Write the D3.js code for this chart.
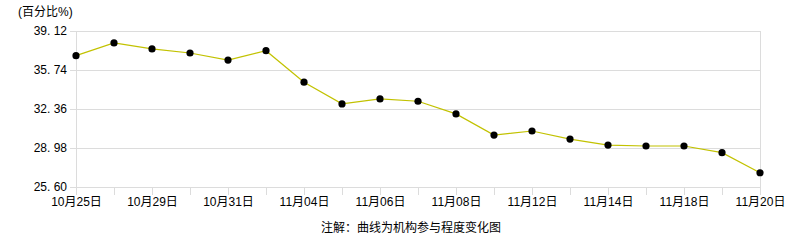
<!DOCTYPE html>
<html>
<head>
<meta charset="utf-8">
<script src="https://cdn.jsdelivr.net/npm/d3@7"></script>
<style>
body{margin:0;background:#fff;}
text{font-family:"Liberation Sans","Noto Sans CJK SC",sans-serif;font-size:12px;fill:#000;}
</style>
</head>
<body>
<div id="canvas"></div>
<script>
// dates of each point (labels shown on every other one)
var dates = ['10月25日','10月28日','10月29日','10月30日','10月31日','11月01日','11月04日','11月05日','11月06日','11月07日',
             '11月08日','11月11日','11月12日','11月13日','11月14日','11月15日','11月18日','11月19日','11月20日'];
var values = [36.94,38.04,37.52,37.17,36.56,37.37,34.64,32.76,33.19,32.99,
              31.89,30.06,30.41,29.71,29.19,29.11,29.11,28.53,26.79];
var yTicks = [25.60,28.98,32.36,35.74,39.12];

var W = 786, H = 240;
var m = {t:30.5,r:26,b:53.5,l:76};
var w = W - m.l - m.r, h = H - m.t - m.b;

var svg = d3.select('#canvas').append('svg')
    .attr('width',W).attr('height',H);
var plot = svg.append('g')
    .attr('transform','translate(' + m.l + ',' + m.t + ')');

var scaleX = d3.scalePoint().domain(dates).range([0,w]);
var scaleY = d3.scaleLinear().domain([25.60,39.12]).range([h,0]);

//grid + y axis
var axisY = d3.axisLeft(scaleY)
    .tickValues(yTicks)
    .tickSize(-w-6)
    .tickPadding(4)
    .tickFormat(function(d){ return d.toFixed(2).replace('.', '. '); });
var gy = plot.append('g').attr('class','axis-y')
    .attr('transform','translate(-6,0)')
    .call(axisY);
gy.select('.domain').remove();
gy.selectAll('line').attr('stroke','#dcdcdc').attr('shape-rendering','crispEdges');
gy.selectAll('text').attr('x',-3);

// left & right borders
plot.append('line').attr('x1',0).attr('x2',0).attr('y1',0).attr('y2',h+8)
    .attr('stroke','#dcdcdc').attr('shape-rendering','crispEdges');
plot.append('line').attr('x1',w).attr('x2',w).attr('y1',0).attr('y2',h+8)
    .attr('stroke','#dcdcdc').attr('shape-rendering','crispEdges');

//x axis
var axisX = d3.axisBottom(scaleX)
    .tickSize(8)
    .tickPadding(2)
    .tickFormat(function(d,i){ return i % 2 === 0 ? d : ''; });
var gx = plot.append('g').attr('class','axis-x')
    .attr('transform','translate(0,'+h+')')
    .call(axisX);
gx.select('.domain').attr('stroke','#dcdcdc').attr('d','M0,0.5H'+w).attr('shape-rendering','crispEdges');
gx.selectAll('line').attr('stroke','#dcdcdc').attr('shape-rendering','crispEdges');
gx.selectAll('text').attr('y',11);

//line
var line = d3.line()
    .x(function(d,i){ return scaleX(dates[i]); })
    .y(function(d){ return scaleY(d); });
plot.append('path').datum(values)
    .attr('d',line)
    .attr('fill','none')
    .attr('stroke','#c2c200')
    .attr('stroke-width',1.2);

plot.selectAll('.dot').data(values).enter()
    .append('circle').attr('class','dot')
    .attr('cx',function(d,i){ return scaleX(dates[i]); })
    .attr('cy',function(d){ return scaleY(d); })
    .attr('r',3.6)
    .attr('fill','#000');

//unit + note
svg.append('text').attr('x',18).attr('y',16).text('(百分比%)');
svg.append('text').attr('x',411).attr('y',232).attr('text-anchor','middle').text('注解：曲线为机构参与程度变化图');
</script>
</body>
</html>
